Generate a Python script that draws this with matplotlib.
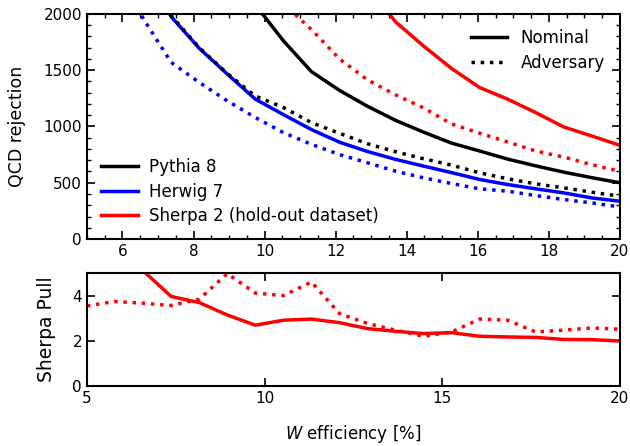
import numpy as np
import matplotlib
matplotlib.use('Agg')
from matplotlib import pyplot as plt

# W efficiency points [%]
eff = [5.0, 5.79, 6.58, 7.37, 8.16, 8.95, 9.74, 10.53, 11.32, 12.11,
       12.89, 13.68, 14.47, 15.26, 16.05, 16.84, 17.63, 18.42, 19.21, 20.0]

# QCD rejection, nominal taggers
pythia_nom = [5200, 4500, 3800, 3200, 2800, 2450, 2080, 1760, 1486, 1320,
              1180, 1055, 950, 852, 782, 710, 650, 594, 545, 500]
herwig_nom = [3400, 2850, 2400, 1975, 1694, 1465, 1242, 1105, 972, 860,
              778, 708, 648, 590, 529, 484, 446, 410, 365, 336]
sherpa_nom = [6500, 5600, 4800, 4200, 3700, 3300, 2950, 2700, 2500, 2370,
              2250, 1930, 1715, 1515, 1346, 1242, 1123, 995, 915, 832]

# QCD rejection, adversarial taggers
pythia_adv = [3400, 2850, 2400, 1985, 1700, 1470, 1270, 1168, 1034, 939,
              847, 776, 713, 657, 588, 535, 490, 455, 416, 380]
herwig_adv = [3000, 2500, 1960, 1569, 1391, 1227, 1079, 945, 841, 750,
              678, 603, 544, 493, 446, 425, 386, 351, 321, 285]
sherpa_adv = [3500, 3100, 2800, 2600, 2450, 2300, 2200, 2090, 1860, 1599,
              1415, 1281, 1165, 1022, 940, 862, 782, 728, 660, 603]

# Sherpa pull
pull_nom = [8.0, 6.5, 5.1, 3.96, 3.69, 3.14, 2.69, 2.91, 2.96, 2.80,
            2.54, 2.42, 2.32, 2.36, 2.20, 2.17, 2.15, 2.06, 2.05, 1.99]
pull_adv = [3.54, 3.74, 3.66, 3.56, 3.84, 4.97, 4.11, 4.00, 4.60, 3.20,
            2.77, 2.47, 2.20, 2.39, 2.96, 2.91, 2.39, 2.47, 2.57, 2.51]

plt.rcParams['font.size'] = 11

fig = plt.figure(figsize=(6.3, 4.46), dpi=100)
ax1 = fig.add_axes([0.138, 0.464, 0.846, 0.505])
ax2 = fig.add_axes([0.138, 0.1345, 0.846, 0.2535])

lw = 2.5
p1, = ax1.plot(eff, pythia_nom, color='black', lw=lw, label='Pythia 8')
h1, = ax1.plot(eff, herwig_nom, color='blue', lw=lw, label='Herwig 7')
s1, = ax1.plot(eff, sherpa_nom, color='red', lw=lw, label='Sherpa 2 (hold-out dataset)')
ax1.plot(eff, pythia_adv, color='black', lw=lw, ls=':')
ax1.plot(eff, herwig_adv, color='blue', lw=lw, ls=':')
ax1.plot(eff, sherpa_adv, color='red', lw=lw, ls=':')

ax1.set_xlim(5, 20)
ax1.set_ylim(0, 2000)
ax1.set_xticks(np.arange(6, 21, 2))
ax1.set_xticks(np.arange(5, 20.01, 0.5), minor=True)
ax1.set_yticks(np.arange(0, 2001, 500))
ax1.set_yticks(np.arange(0, 2001, 100), minor=True)
ax1.set_ylabel('QCD rejection', fontsize=12.5, labelpad=13)

leg1 = ax1.legend(handles=[p1, h1, s1], loc='lower left', frameon=False,
                  fontsize=12, handlelength=2.2, handletextpad=0.65,
                  borderaxespad=0.45, labelspacing=0.38)
ax1.add_artist(leg1)
n1, = ax1.plot([], [], color='black', lw=lw, label='Nominal')
a1, = ax1.plot([], [], color='black', lw=lw, ls=':', label='Adversary')
ax1.legend(handles=[n1, a1], loc='upper right', frameon=False, fontsize=12,
           handlelength=2.2, labelspacing=0.45)

ax2.plot(eff, pull_nom, color='red', lw=lw)
ax2.plot(eff, pull_adv, color='red', lw=lw, ls=':')
ax2.set_xlim(5, 20)
ax2.set_ylim(0, 5)
ax2.set_xticks([5, 10, 15, 20])
ax2.set_yticks([0, 2, 4])
ax2.set_ylabel('Sherpa Pull', fontsize=13.5, labelpad=12)
ax2.set_xlabel('$W$ efficiency [%]', fontsize=12, labelpad=12)

for ax in (ax1, ax2):
    ax.tick_params(which='both', direction='in', top=True, right=True)
    ax.tick_params(which='major', length=6, width=1.2)
    ax.tick_params(which='minor', length=3, width=1)
    for sp in ax.spines.values():
        sp.set_linewidth(1.5)

fig.savefig('out.png', dpi=100)
